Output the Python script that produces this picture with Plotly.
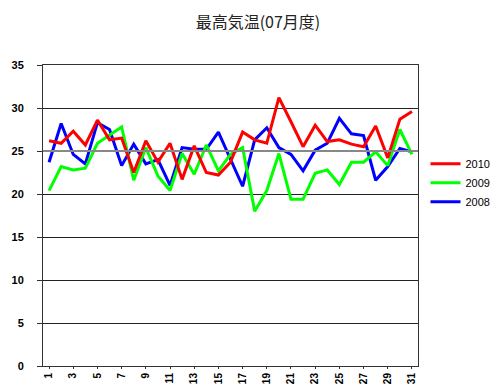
import plotly.graph_objects as go

days = list(range(1, 32))
tick_days = list(range(1, 32, 2))
tick_labels = [str(d) for d in tick_days]
y_ticks = [0, 5, 10, 15, 20, 25, 30, 35]

t2010 = [26.2, 25.9, 27.3, 25.7, 28.6, 26.3, 26.5, 22.5, 26.2, 23.7,
         25.9, 21.7, 25.6, 22.5, 22.2, 23.7, 27.2, 26.3, 25.9, 31.2,
         28.4, 25.5, 28.0, 26.1, 26.3, 25.8, 25.5, 27.9, 24.2, 28.7, 29.6]
t2009 = [20.4, 23.2, 22.8, 23.0, 25.9, 26.8, 27.8, 21.6, 25.4, 22.1,
         20.4, 24.7, 22.3, 25.7, 22.7, 24.6, 25.4, 18.0, 20.4, 24.7,
         19.4, 19.4, 22.4, 22.8, 21.1, 23.7, 23.7, 24.9, 23.3, 27.5, 24.6]
t2008 = [23.7, 28.2, 24.6, 23.5, 28.3, 27.5, 23.3, 25.8, 23.5, 24.0,
         21.0, 25.4, 25.2, 25.2, 27.2, 24.0, 20.9, 26.3, 27.7, 25.4,
         24.6, 22.7, 25.1, 25.9, 28.8, 27.0, 26.8, 21.6, 23.2, 25.3, 24.9]

series = [("2008", t2008, "#0000FF"), ("2009", t2009, "#00FF00"), ("2010", t2010, "#FF0000")]

fig = go.Figure()
for name, vals, color in series:
    fig.add_trace(go.Scatter(x=days, y=vals, mode="lines", name=name,
                             line=dict(color=color, width=3)))

fig.add_hline(y=25, line=dict(color="#888888", width=2), layer="above")

fig.update_layout(
    width=500, height=384,
    margin=dict(l=35, r=74, t=57, b=26),
    paper_bgcolor="white", plot_bgcolor="white",
    title=dict(text="最高気温(07月度)", x=0.5, xref="container", xanchor="center",
               y=1 - 14 / 384, yref="container", yanchor="middle",
               font=dict(family="Noto Sans CJK JP", size=16, color="#222222")),
    font=dict(family="Liberation Sans, Arial", size=11, color="#000000"),
    showlegend=True,
    legend=dict(x=1.02, y=0.72, xanchor="left", yanchor="top",
                traceorder="reversed", font=dict(size=11, family="Liberation Sans, Arial"),
                bgcolor="rgba(0,0,0,0)", itemwidth=30, tracegroupgap=0),
)
fig.update_xaxes(range=[0.5, 31.5], tickmode="array", tickvals=tick_days, ticktext=tick_labels,
                 tickangle=-90, showgrid=False, showline=True, linecolor="#333333", linewidth=1,
                 mirror=True, ticks="outside", ticklen=2, tickcolor="#333333",
                 tickfont=dict(family="Liberation Sans, Arial", size=10, weight="bold"),
                 zeroline=False, automargin=False)
fig.update_yaxes(range=[0, 35], tickmode="array", tickvals=y_ticks, showgrid=True,
                 gridcolor="#222222", gridwidth=1, showline=True, linecolor="#333333",
                 linewidth=1, mirror=True, ticks="outside", ticklen=5, tickcolor="#333333",
                 ticklabelstandoff=11,
                 tickfont=dict(family="Liberation Sans, Arial", size=11, weight="bold"),
                 zeroline=False, automargin=False)

fig.write_html("out.html")
